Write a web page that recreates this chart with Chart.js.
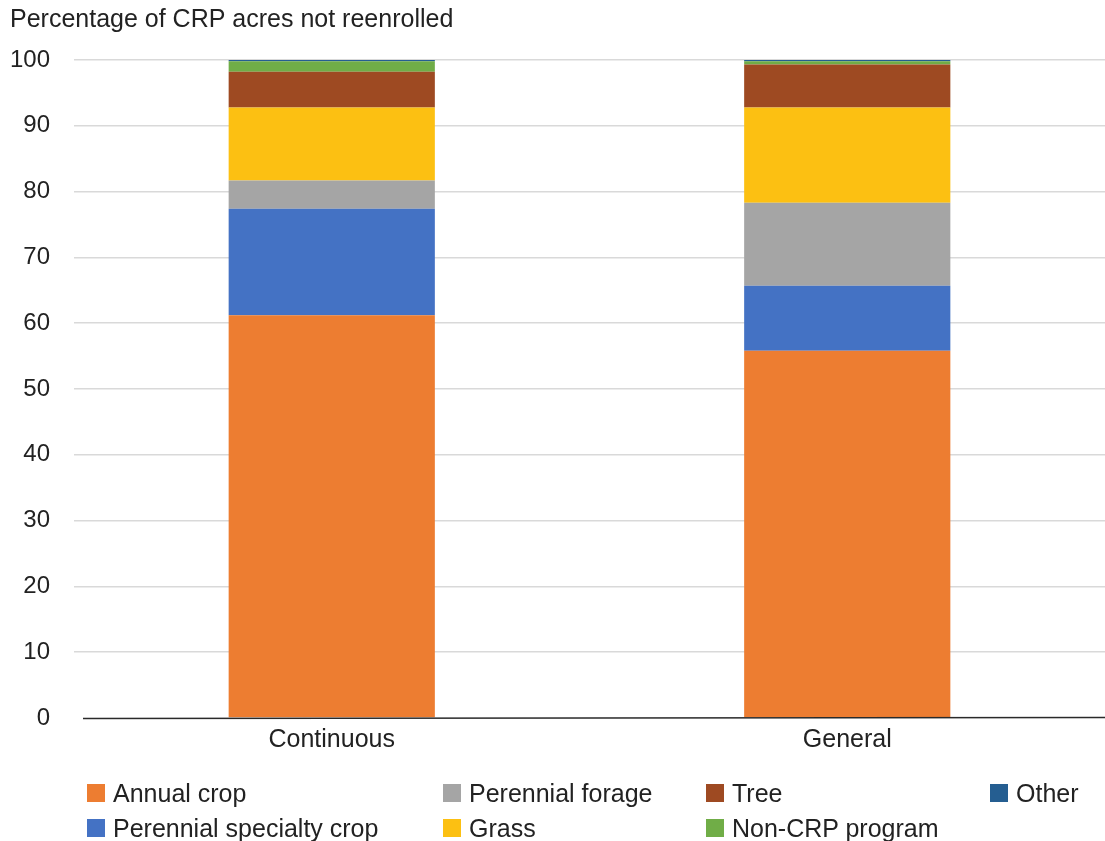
<!DOCTYPE html>
<html>
<head>
<meta charset="utf-8">
<script src="https://cdn.jsdelivr.net/npm/chart.js@4/dist/chart.umd.min.js"></script>
<style>
  html, body { margin: 0; padding: 0; background: #fff; }
  #wrap { position: relative; width: 1105px; height: 841px; }
  #legend { position: absolute; left: 0; top: 0; width: 1105px; height: 841px; pointer-events: none;
            font-family: "Liberation Sans", Arial, Helvetica, sans-serif; font-size: 25px; color: #222; }
  .item { position: absolute; display: flex; align-items: center; white-space: nowrap; height: 26px; }
  .swatch { width: 18px; height: 18px; margin-right: 8px; }
</style>
</head>
<body>
<div id="wrap">
  <canvas id="chart" width="1105" height="841"></canvas>
  <div id="legend"></div>
</div>
<script>
// Share of CRP acres not reenrolled, by what the land went to
const categories = ['Continuous', 'General'];
const annualCrop         = [61.2, 55.8];
const perennialSpecialty = [16.2, 9.9];
const perennialForage    = [4.3, 12.6];
const grass              = [11.1, 14.5];
const tree               = [5.4, 6.5];
const nonCrpProgram      = [1.6, 0.5];
const other              = [0.2, 0.2];
const yTickValues = [0, 10, 20, 30, 40, 50, 60, 70, 80, 90, 100];
const yAxisTitle = 'Percentage of CRP acres not reenrolled';

const FONT = '"Liberation Sans", Arial, Helvetica, sans-serif';

const series = [
  { label: 'Annual crop',              data: annualCrop,         color: '#ED7D31' },
  { label: 'Perennial specialty crop', data: perennialSpecialty, color: '#4472C4' },
  { label: 'Perennial forage',         data: perennialForage,    color: '#A5A5A5' },
  { label: 'Grass',                    data: grass,              color: '#FCC012' },
  { label: 'Tree',                     data: tree,               color: '#9E4A22' },
  { label: 'Non-CRP program',          data: nonCrpProgram,      color: '#70AD47' },
  { label: 'Other',                    data: other,              color: '#255E91' }
];

// Axis caption above the value axis, and the zero baseline
const decorPlugin = {
  id: 'decor',
  afterDraw(chart) {
    const ctx = chart.ctx;
    const area = chart.chartArea;
    const y0 = chart.scales.y.getPixelForValue(0);
    ctx.save();
    ctx.font = '25px ' + FONT;
    ctx.fillStyle = '#222';
    ctx.textAlign = 'left';
    ctx.textBaseline = 'middle';
    ctx.fillText(yAxisTitle, 10, 20);
    ctx.strokeStyle = '#2a2a2a';
    ctx.lineWidth = 1.5;
    ctx.beginPath();
    ctx.moveTo(area.left + 9, y0 + 0.5);
    ctx.lineTo(area.right, y0 - 0.5);
    ctx.stroke();
    ctx.restore();
  }
};

const chart = new Chart(document.getElementById('chart'), {
  type: 'bar',
  data: {
    labels: categories,
    datasets: series.map(s => ({
      label: s.label,
      data: s.data,
      backgroundColor: s.color,
      borderWidth: 0,
      categoryPercentage: 1.0,
      barPercentage: 0.4
    }))
  },
  options: {
    responsive: false,
    animation: false,
    layout: { padding: { top: 60, right: 0, bottom: 0, left: 0 } },
    plugins: {
      legend: { display: false },
      tooltip: { enabled: false }
    },
    scales: {
      x: {
        stacked: true,
        afterFit(scale) { scale.height = 123; },
        grid: { display: false, drawTicks: false },
        border: { display: false },
        ticks: { color: '#222', font: { family: FONT, size: 25 }, padding: 7 }
      },
      y: {
        stacked: true,
        min: 0,
        max: 100,
        afterFit(scale) { scale.width = 74; },
        afterBuildTicks(scale) { scale.ticks = yTickValues.map(v => ({ value: v })); },
        grid: {
          drawTicks: false,
          color: ctx => ctx.tick && ctx.tick.value === 0 ? 'rgba(0,0,0,0)' : '#d9d9d9',
          lineWidth: 1.5
        },
        border: { display: false },
        ticks: { color: '#222', font: { family: FONT, size: 24 }, padding: 24 }
      }
    }
  },
  plugins: [decorPlugin]
});

// Legend laid out in columns: two entries per column, top to bottom
const legendColumns = [87, 443, 706, 990];
const legendRows = [780, 815];
const legendEl = document.getElementById('legend');
series.forEach((s, i) => {
  const col = Math.floor(i / 2);
  const row = i % 2;
  const item = document.createElement('div');
  item.className = 'item';
  item.style.left = legendColumns[col] + 'px';
  item.style.top = legendRows[row] + 'px';
  const sw = document.createElement('span');
  sw.className = 'swatch';
  sw.style.background = s.color;
  const tx = document.createElement('span');
  tx.textContent = s.label;
  item.appendChild(sw);
  item.appendChild(tx);
  legendEl.appendChild(item);
});
</script>
</body>
</html>
